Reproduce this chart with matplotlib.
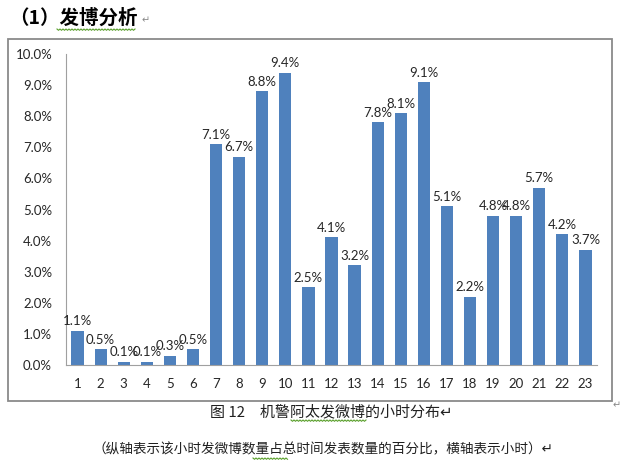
import numpy as np
import matplotlib
matplotlib.use('Agg')
import matplotlib.pyplot as plt
from matplotlib.patches import Rectangle
from matplotlib.lines import Line2D
from matplotlib.ticker import FuncFormatter

# hours and share of posts (%)
hours = [str(h) for h in range(1, 24)]
share = [1.1, 0.5, 0.1, 0.1, 0.3, 0.5, 7.1, 6.7, 8.8, 9.4, 2.5, 4.1,
         3.2, 7.8, 8.1, 9.1, 5.1, 2.2, 4.8, 4.8, 5.7, 4.2, 3.7]
yticks = [0, 1, 2, 3, 4, 5, 6, 7, 8, 9, 10]

title = '（1）发博分析'
caption1 = '图 12　机警阿太发微博的小时分布'
caption2 = '（纵轴表示该小时发微博数量占总时间发表数量的百分比，横轴表示小时）'

cjk = ['Noto Sans CJK SC', 'DejaVu Sans']
W, H = 622, 469

fig = plt.figure(figsize=(W / 100, H / 100), dpi=100)
fig.patch.set_facecolor('white')

def fx(px):
    return px / W

def fy(py):
    return 1 - py / H

# chart frame, kept behind the axes
fig.add_artist(Rectangle((fx(8), fy(401)), fx(604), 362 / H, transform=fig.transFigure,
                         facecolor='white', edgecolor='#8a8a8a', linewidth=1.3, zorder=-5))

ax = fig.add_axes([fx(66), fy(365), fx(531), 311 / H])
ax.set_zorder(2)
x = np.arange(len(hours))
bars = ax.bar(x, share, width=0.53, color='#4f81bd', zorder=2)
for xi, v in zip(x, share):
    ax.annotate(f'{v:.1f}%', (xi, v), xytext=(0, 2.5), textcoords='offset points',
                ha='center', va='bottom', fontsize=9.5, family='Lato', color='#262626')

ax.set_xlim(-0.5, len(hours) - 0.5)
ax.set_ylim(0, 10)
ax.set_yticks(yticks)
ax.yaxis.set_major_formatter(FuncFormatter(lambda v, p: f'{v:.1f}%'))
ax.set_xticks(x)
ax.set_xticklabels(hours)
ax.tick_params(axis='both', length=0, labelsize=9.5, labelcolor='#262626')
ax.tick_params(axis='y', pad=10)
ax.tick_params(axis='x', pad=9)
for lab in ax.get_xticklabels() + ax.get_yticklabels():
    lab.set_family('Lato')
for s in ['top', 'right']:
    ax.spines[s].set_visible(False)
ax.spines['left'].set_color('#a0a0a0')
ax.spines['bottom'].set_color('#a0a0a0')
ax.patch.set_alpha(0)

# heading and captions
fig.text(fx(9), fy(18), title, family=cjk, fontsize=14, fontweight='bold', va='center', ha='left')
fig.text(fx(142), fy(20), '↵', family=['DejaVu Sans'], fontsize=7, color='#888888', va='center')
fig.text(fx(210), fy(412), caption1 + '↵', family=cjk, fontsize=10.8, va='center', ha='left', color='#202020')
fig.text(fx(92), fy(449), caption2 + '↵', family=cjk, fontsize=9.8, va='center', ha='left', color='#202020')
fig.text(fx(613), fy(405), '↵', family=['DejaVu Sans'], fontsize=7, color='#888888', va='center')

# spell-check squiggles
def squiggle(x0, x1, y):
    xs = np.arange(x0, x1, 1.5)
    ys = y + np.where(np.arange(len(xs)) % 2 == 0, 0, 1.3)
    fig.add_artist(Line2D(fx(xs), fy(ys), transform=fig.transFigure, color='#5aa02c', linewidth=0.8))

squiggle(57, 136, 29)
squiggle(291, 367, 420)
squiggle(253, 288, 458)

fig.savefig('out.png', dpi=100)
